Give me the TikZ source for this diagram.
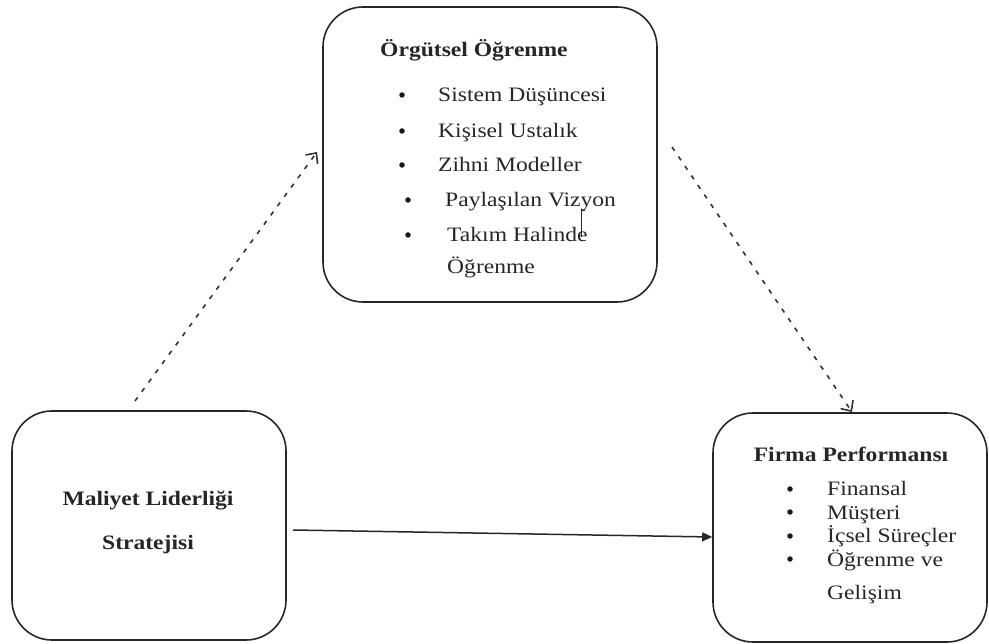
\documentclass[tikz,border=0pt]{standalone}
\usepackage{fontspec}
\setmainfont{Liberation Serif}[FakeStretch=1.15]
\usetikzlibrary{arrows.meta}

\tikzset{
  panel/.style={draw=black!85, line width=1.6pt, rounded corners=40pt, inner sep=0pt},
  txt/.style={inner sep=0pt, anchor=base west, font=\fontsize{20.5}{24}\selectfont, text=black!85},
  head/.style={txt, font=\fontsize{20.5}{24}\selectfont\bfseries},
  dot/.style={circle, fill=black!90, inner sep=0pt, minimum size=5.5pt},
  dashlink/.style={draw=black!80, line width=1.6pt, dash pattern=on 4.5pt off 7pt,
    -{Straight Barb[length=8pt,width=15pt,line width=1.6pt]}},
  solidlink/.style={draw=black!85, line width=1.5pt, -{Triangle[length=10pt,width=9pt]}}
}

\begin{document}
\begin{tikzpicture}[x=1pt,y=-1pt]
  \useasboundingbox (0,0) rectangle (989,644);

  % the three panels
  \node[panel, minimum width=334pt, minimum height=295pt] (org) at (490,154.5) {};
  \node[panel, minimum width=274pt, minimum height=229pt] (mal) at (149,525.5) {};
  \node[panel, minimum width=274pt, minimum height=229pt] (firm) at (850,527.5) {};

  % Örgütsel Öğrenme
  \node[head] (orgT) at (380,57) {Örgütsel Öğrenme};
  \node[dot] (ob1) at (402,95) {};
  \node[txt] (o1) at (438,102) {Sistem Düşüncesi};
  \node[dot] (ob2) at (402,131) {};
  \node[txt] (o2) at (438,138) {Kişisel Ustalık};
  \node[dot] (ob3) at (402,165) {};
  \node[txt] (o3) at (438,172) {Zihni Modeller};
  \node[dot] (ob4) at (408,200) {};
  \node[txt] (o4) at (445,207) {Paylaşılan Vizyon};
  \node[dot] (ob5) at (408,235) {};
  \node[txt] (o5) at (447,242) {Takım Halinde};
  \node[txt] (o6) at (447,274) {Öğrenme};
  % small text cursor mark
  \draw[line width=1pt, black!85] (581,237) -- (581,211) -- (585,211);

  % Maliyet Liderliği Stratejisi
  \node[head, anchor=base] (m1) at (148,505) {Maliyet Liderliği};
  \node[head, anchor=base] (m2) at (148,549) {Stratejisi};

  % Firma Performansı
  \node[head, anchor=base] (fT) at (851,462) {Firma Performansı};
  \node[dot] (fb1) at (790,489) {};
  \node[txt] (f1) at (827,496) {Finansal};
  \node[dot] (fb2) at (790,512) {};
  \node[txt] (f2) at (827,519) {Müşteri};
  \node[dot] (fb3) at (790,536) {};
  \node[txt] (f3) at (827,543) {İçsel Süreçler};
  \node[dot] (fb4) at (790,559) {};
  \node[txt] (f4) at (827,566) {Öğrenme ve};
  \node[txt] (f5) at (827,599) {Gelişim};

  % connector end points
  \coordinate (a1s) at (135,401);
  \coordinate (a1e) at (317,152);
  \coordinate (a2s) at (672,147);
  \coordinate (a2e) at (852,412);
  \coordinate (a3s) at (293,530);
  \coordinate (a3e) at (firm.west |- 0,537);

  \draw[dashlink] (a1s) -- (a1e);
  \draw[dashlink] (a2s) -- (a2e);
  \draw[solidlink] (a3s) -- (a3e);
\end{tikzpicture}
\end{document}
